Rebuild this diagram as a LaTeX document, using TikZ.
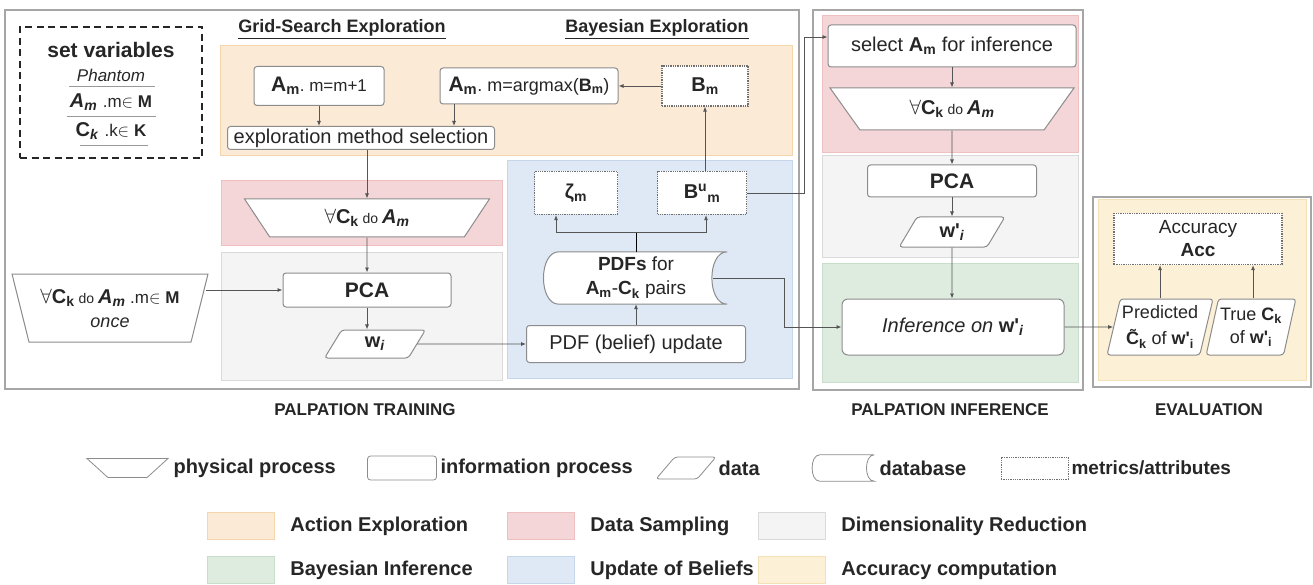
\documentclass[tikz,border=0pt]{standalone}
\usepackage{fontspec}
\setmainfont{Liberation Sans}
\usetikzlibrary{shapes.geometric, arrows.meta, positioning, calc}

\definecolor{fillact}{RGB}{251,234,214}
\definecolor{lineact}{RGB}{244,214,172}
\definecolor{fillsamp}{RGB}{245,214,216}
\definecolor{linesamp}{RGB}{238,192,194}
\definecolor{filldimr}{RGB}{244,244,244}
\definecolor{linedimr}{RGB}{218,218,218}
\definecolor{fillupd}{RGB}{222,233,245}
\definecolor{lineupd}{RGB}{198,215,236}
\definecolor{fillbayes}{RGB}{222,236,223}
\definecolor{linebayes}{RGB}{200,222,203}
\definecolor{fillaccu}{RGB}{252,240,214}
\definecolor{lineaccu}{RGB}{244,224,182}
\definecolor{edge}{RGB}{140,140,140}
\definecolor{wire}{RGB}{85,85,85}

\newcommand{\fsz}[1]{\fontsize{#1}{#1}\selectfont}
\newcommand{\Am}{\textbf{A}\textsubscript{\textbf{m}}}
\newcommand{\Ami}{\textbf{\textit{A}}\textsubscript{\textbf{\textit{m}}}}
\newcommand{\Ck}{\textbf{C}\textsubscript{\textbf{k}}}
\newcommand{\wpi}{\textbf{w\textquotesingle}\textsubscript{\textbf{\textit{i}}}}

\begin{document}
\begin{tikzpicture}[x=1pt, y=-1pt,
  every node/.style={font=\fsz{20}, text=black!85},
  proc/.style={draw=edge, fill=white, line width=1pt, rounded corners=3pt, inner sep=1pt},
  metric/.style={draw=edge!80!black, fill=white, line width=1.3pt, densely dotted, inner sep=1pt},
  phys/.style={trapezium, shape border rotate=180, trapezium stretches=true, draw=edge, fill=white, line width=1pt, inner sep=1pt},
  datum/.style={trapezium, trapezium left angle=70, trapezium right angle=110, trapezium stretches=true, draw=edge, fill=white, line width=1pt, rounded corners=3pt, inner sep=1pt},
  frame/.style={draw=black!35, line width=1.5pt},
  link/.style={draw=wire, line width=0.8pt, -{Latex[length=5pt,width=4pt]}},
  keytext/.style={anchor=west, font=\fsz{20}\bfseries},
  steplabel/.style={font=\fsz{17}\bfseries}
]
\useasboundingbox (0,0) rectangle (1313,585);

% ramy etapow
\draw[frame] (5,10) rectangle (799,389);
\draw[frame] (813,10) rectangle (1083,390);
\draw[frame] (1093,197) rectangle (1311,387);
% tla obszarow
\foreach \name/\xa/\ya/\xb/\yb in {act/220/45/792/155, samp/221/180/502/245, dimr/221/252/502/380,
    upd/507/160/792/378, samp/822/15/1078/152, dimr/822/155/1078/257, bayes/822/263/1078/382,
    accu/1098/199/1306/380}
  \draw[draw=line\name, fill=fill\name, line width=0.8pt] (\xa,\ya) rectangle (\xb,\yb);

% zmienne
\node[draw=black!85, dash pattern=on 7pt off 4.5pt, line width=2pt, minimum width=182, minimum height=131] (setbox) at (111,92.5) {};
\node[font=\fsz{21}\bfseries] (settitle) at (111,50) {set variables};
\node[font=\fsz{17}\itshape] (phantom) at (111,75) {Phantom};
\node (setam) at (111,102) {\Ami\ {\fsz{17}.m$\in\mathbf{M}$}};
\node (setck) at (111,131) {\textbf{C}\textsubscript{\textbf{\textit{k}}}\ {\fsz{17}.k$\in\mathbf{K}$}};
\draw[black!40, line width=1pt] (69,87) -- (155,87) (67,117) -- (156,117) (80,146) -- (148,146);

\node[font=\fsz{18}\bfseries] (gridtitle) at (342,29) {\underline{Grid-Search Exploration}};
\node[font=\fsz{18}\bfseries] (bayestitle) at (657,29) {\underline{Bayesian Exploration}};

% eksploracja akcji
\node[proc, minimum width=130, minimum height=39] (amnext) at (319,86) {{\fsz{21}\Am}{\fsz{17}.\ m=m+1}};
\node[proc, minimum width=178, minimum height=36] (amargmax) at (529,86) {{\fsz{21}\Am}{\fsz{18}.\ m=argmax(\textbf{B}\textsubscript{\textbf{m}})}};
\node[metric, minimum width=86, minimum height=40] (bm) at (705,86) {\textbf{B}\textsubscript{\textbf{m}}};
\node[proc, minimum width=267, minimum height=23] (expsel) at (361,138) {exploration method selection};
\draw[link] (amnext) -- (amnext |- expsel.north);
\draw[link] ([xshift=-75]amargmax.south) -- ([xshift=-75]amargmax.south |- expsel.north);
\draw[link] (bm) -- (amargmax);

% uczenie
\node[phys, trapezium left angle=60, trapezium right angle=60, minimum width=245, minimum height=38] (sampletrain) at (367,218) {$\forall$\Ck{\fsz{14} do }\Ami};
\node[proc, minimum width=168, minimum height=34, font=\fsz{21}\bfseries] (pcatrain) at (367,290) {PCA};
\node[datum, minimum width=101, minimum height=28] (wtrain) at (375,344) {\textbf{w}\textsubscript{\textbf{\textit{i}}}};
\node[phys, trapezium left angle=70, trapezium right angle=70, minimum width=196, minimum height=68, align=center] (sampleall) at (110,308)
  {$\forall$\Ck{\fsz{14} do }\Ami{\fsz{17} .m$\in\mathbf{M}$}\\[4pt]{\fsz{18}\itshape once}};
\draw[link] (expsel.south -| sampletrain) -- (sampletrain);
\draw[link] (sampletrain) -- (pcatrain);
\draw[link] (pcatrain) -- (pcatrain |- wtrain.north);
\draw[link] ($(sampleall.east |- pcatrain.west)+(6,0)$) -- (pcatrain.west);

% aktualizacja przekonan
\node[metric, minimum width=83, minimum height=43] (zeta) at (576,193) {\textbf{ζ}\textsubscript{\textbf{m}}};
\node[metric, minimum width=89, minimum height=43] (bum) at (702,193) {\textbf{B}\textsuperscript{\textbf{u}}\textsubscript{\textbf{m}}};
\node[minimum width=182, minimum height=52] (pdfsbox) at (636,278) {};
\filldraw[draw=edge, fill=white, line width=1pt] (pdfsbox.north east) -- ([xshift=14]pdfsbox.north west)
  to[out=180, in=180] ([xshift=14]pdfsbox.south west) -- (pdfsbox.south east)
  to[out=180, in=180] (pdfsbox.north east);
\node[align=center, font=\fontsize{19}{24}\selectfont] (pdfs) at (pdfsbox.center) {\textbf{PDFs} for\\\Am-\Ck\ pairs};
\node[proc, minimum width=219, minimum height=37] (pdfupd) at (636,344) {PDF (belief) update};
\coordinate (split) at (636,232);
\draw[link] (wtrain) -- (pdfupd);
\draw[link] (pdfupd) -- (pdfsbox);
\draw (pdfsbox.north) -- (split);
\draw[link] (split) -| ([xshift=-20]zeta.south);
\draw[link] (split) -| ([xshift=4]bum.south);
\draw[link] ([xshift=3]bum.north) -- ([xshift=3]bum.north |- bm.south);

% wnioskowanie
\node[proc, minimum width=248, minimum height=42] (selinf) at (952,46) {select \Am\ for inference};
\node[phys, trapezium left angle=54, trapezium right angle=54, minimum width=244, minimum height=42] (sampleinf) at (952,109) {$\forall$\Ck{\fsz{14} do }\Ami};
\node[proc, minimum width=169, minimum height=32, font=\fsz{21}\bfseries] (pcainf) at (952,181) {PCA};
\node[datum, minimum width=106, minimum height=30] (winf) at (952,232) {\wpi};
\node[proc, rounded corners=6pt, minimum width=222, minimum height=56] (inferw) at (953,327) {\textit{Inference on} \wpi};
\draw[link] (selinf) -- (sampleinf);
\draw[link] (sampleinf) -- (pcainf);
\draw[link] (pcainf) -- (pcainf |- winf.north);
\draw[link] (winf) -- (winf |- inferw.north);
\draw[link] (bum.east) -| ($(selinf.west)+(-23,-9)$) -- ($(selinf.west)+(0,-9)$);
\draw[link] ([xshift=-14]pdfsbox.east) -- ++(71,0) |- (inferw.west);

% ocena
\node[metric, minimum width=168, minimum height=51, align=center, font=\fontsize{19}{23}\selectfont] (acc) at (1198,239) {Accuracy\\\textbf{Acc}};
\node[datum, trapezium left angle=74, trapezium right angle=106, inner xsep=0pt, minimum width=106, minimum height=56, align=center, font=\fontsize{18}{21}\selectfont] (pred) at (1160,327)
  {Predicted\\[5pt]\textbf{C^^^^0303}\textsubscript{\textbf{k}} of \textbf{w\textquotesingle}\textsubscript{\textbf{i}}};
\node[datum, trapezium left angle=74, trapezium right angle=106, inner xsep=0pt, minimum width=90, minimum height=56, align=center, font=\fontsize{18}{23}\selectfont] (truec) at (1251,327)
  {True \Ck\\of \textbf{w\textquotesingle}\textsubscript{\textbf{i}}};
\draw[link] (inferw.east) -- (pred.west);
\draw[link] (pred.north) -- (pred.north |- acc.south);
\draw[link] ([xshift=2]truec.north) -- ([xshift=2]truec.north |- acc.south);

\node[steplabel] (trainlabel) at (365,410) {PALPATION TRAINING};
\node[steplabel] (inflabel) at (950,410) {PALPATION INFERENCE};
\node[steplabel] (evallabel) at (1209,410) {EVALUATION};

% legenda
\node[phys, trapezium left angle=62, trapezium right angle=62, minimum width=81, minimum height=19, line width=0.8pt] (keyphys) at (127.5,468) {};
\node[keytext] (keyphystext) at (170,468) {physical process};
\node[proc, line width=0.8pt, minimum width=69, minimum height=24] (keyproc) at (402,468) {};
\node[keytext] (keyproctext) at (437,468) {information process};
\node[datum, trapezium left angle=50, trapezium right angle=130, line width=0.8pt, minimum width=60, minimum height=22] (keydata) at (686,468) {};
\node[keytext] (keydatatext) at (715,468) {data};
\node[minimum width=62, minimum height=26] (keydb) at (843,468) {};
\draw[draw=edge, line width=0.8pt] (keydb.north east) -- ([xshift=8]keydb.north west)
  to[out=180, in=180] ([xshift=8]keydb.south west) -- (keydb.south east)
  to[out=180, in=180] (keydb.north east);
\node[keytext] (keydbtext) at (876,468) {database};
\node[metric, line width=1pt, minimum width=67, minimum height=22] (keymetric) at (1034.5,468) {};
\node[keytext, font=\fsz{19}\bfseries] (keymetrictext) at (1068,468) {metrics/attributes};

\foreach \name/\x/\y/\txt in {act/241/526/Action Exploration, samp/541/526/Data Sampling,
    dimr/792/526/Dimensionality Reduction, bayes/241/570/Bayesian Inference,
    upd/541/570/Update of Beliefs, accu/792/570/Accuracy computation} {
  \node[draw=line\name, fill=fill\name, line width=0.8pt, minimum width=67, minimum height=27] (sw\name) at (\x,\y) {};
  \node[keytext] (lab\name) at ([xshift=12]sw\name.east) {\txt};
}
\end{tikzpicture}
\end{document}
